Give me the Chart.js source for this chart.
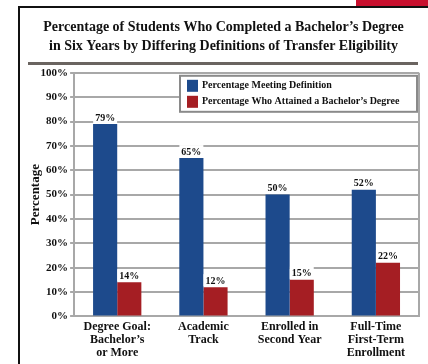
<!DOCTYPE html>
<html>
<head>
<meta charset="utf-8">
<script src="https://cdn.jsdelivr.net/npm/chart.js@4"></script>
<style>
  html, body { margin: 0; padding: 0; background: #fff; }
  #wrap { position: relative; width: 428px; height: 364px; overflow: hidden; }
  #frame { position: absolute; left: 18px; top: 6px; width: 420px; height: 370px;
           border-left: 2px solid #111; border-top: 2px solid #111; }
  #redbar { position: absolute; left: 356px; top: 0; width: 72px; height: 6px; background: #c8102e; }
  #rule { position: absolute; left: 28px; top: 62px; width: 390px; height: 3px; background: #6a6460; }
  canvas { position: absolute; left: 0; top: 0; }
</style>
</head>
<body>
<div id="wrap">
  <div id="frame"></div>
  <div id="redbar"></div>
  <div id="rule"></div>
  <canvas id="myChart" width="428" height="364"></canvas>
</div>
<script>
const categories = [
  ["Degree Goal:", "Bachelor’s", "or More"],
  ["Academic", "Track"],
  ["Enrolled in", "Second Year"],
  ["Full-Time", "First-Term", "Enrollment"]
];
const seriesNames = ["Percentage Meeting Definition", "Percentage Who Attained a Bachelor’s Degree"];
const meetingDefinition = [79, 65, 50, 52];
const attainedBachelors = [14, 12, 15, 22];
const yTicks = [0, 10, 20, 30, 40, 50, 60, 70, 80, 90, 100];

const SERIF = "'Liberation Serif', 'DejaVu Serif', serif";
const BLUE = "#1d4a8c";
const RED = "#a51e23";

// draws the value above each bar, on a small white patch
const valueLabels = {
  id: "valueLabels",
  afterDatasetsDraw(chart) {
    const ctx = chart.ctx;
    ctx.save();
    ctx.font = "bold 10px " + SERIF;
    ctx.textAlign = "center";
    ctx.textBaseline = "bottom";
    chart.data.datasets.forEach((ds, i) => {
      chart.getDatasetMeta(i).data.forEach((bar, j) => {
        const txt = ds.data[j] + "%";
        const w = ctx.measureText(txt).width + 4;
        ctx.fillStyle = "#fff";
        ctx.fillRect(bar.x - w / 2, bar.y - 13, w, 12);
        ctx.fillStyle = "#111";
        ctx.fillText(txt, bar.x, bar.y - 1);
      });
    });
    ctx.restore();
  }
};

// legend box inside the plot, top right
const boxLegend = {
  id: "boxLegend",
  afterDraw(chart) {
    const ctx = chart.ctx;
    const area = chart.chartArea;
    const x0 = 180, y0 = area.top + 3, x1 = area.right - 2, y1 = area.top + 39;
    ctx.save();
    ctx.fillStyle = "#fff";
    ctx.fillRect(x0, y0, x1 - x0, y1 - y0);
    ctx.strokeStyle = "#8a8a8a";
    ctx.lineWidth = 2;
    ctx.strokeRect(x0, y0, x1 - x0, y1 - y0);
    ctx.font = "bold 10px " + SERIF;
    ctx.textBaseline = "middle";
    chart.data.datasets.forEach((ds, i) => {
      const cy = y0 + 10 + i * 16;
      ctx.fillStyle = ds.backgroundColor;
      ctx.fillRect(x0 + 7, cy - 6, 11, 12);
      ctx.fillStyle = "#111";
      ctx.fillText(ds.label, x0 + 22, cy);
    });
    ctx.restore();
  }
};

// right-hand border of the plot
const plotEdge = {
  id: "plotEdge",
  beforeDatasetsDraw(chart) {
    const ctx = chart.ctx;
    const a = chart.chartArea;
    ctx.save();
    ctx.strokeStyle = "#a8a8a8";
    ctx.lineWidth = 2;
    ctx.beginPath();
    ctx.moveTo(a.right, a.top);
    ctx.lineTo(a.right, a.bottom);
    ctx.stroke();
    ctx.restore();
  }
};

const ctx = document.getElementById("myChart");
const myChart = new Chart(ctx, {
  type: "bar",
  data: {
    labels: categories,
    datasets: [
      { label: seriesNames[0], data: meetingDefinition, backgroundColor: BLUE },
      { label: seriesNames[1], data: attainedBachelors, backgroundColor: RED }
    ]
  },
  options: {
    responsive: false,
    animation: false,
    layout: { padding: { left: 28, right: 9, top: 18, bottom: 0 } },
    datasets: { bar: { barPercentage: 1, categoryPercentage: 0.56 } },
    plugins: {
      legend: { display: false },
      tooltip: { enabled: false },
      title: {
        display: true,
        text: [
          "Percentage of Students Who Completed a Bachelor’s Degree",
          "in Six Years by Differing Definitions of Transfer Eligibility"
        ],
        color: "#111",
        font: { family: SERIF, size: 14, weight: "bold", lineHeight: 1.35 },
        padding: { top: 0, bottom: 17 }
      }
    },
    scales: {
      x: {
        grid: { display: false, drawTicks: false },
        border: { color: "#a8a8a8", width: 2 },
        ticks: {
          color: "#111",
          padding: 4,
          maxRotation: 0,
          font: { family: SERIF, size: 12, weight: "bold", lineHeight: 1.1 }
        }
      },
      y: {
        min: 0,
        max: 100,
        afterBuildTicks(axis) { axis.ticks = yTicks.map(v => ({ value: v })); },
        grid: { color: "#a8a8a8", lineWidth: 2, tickLength: 4 },
        border: { color: "#a8a8a8", width: 2 },
        ticks: {
          color: "#111",
          padding: 2,
          font: { family: SERIF, size: 11, weight: "bold" },
          callback: v => v + "%"
        },
        title: {
          display: true,
          text: "Percentage",
          color: "#111",
          padding: { top: 0, bottom: -5 },
          font: { family: SERIF, size: 13, weight: "bold" }
        }
      }
    }
  },
  plugins: [plotEdge, valueLabels, boxLegend]
});
</script>
</body>
</html>
